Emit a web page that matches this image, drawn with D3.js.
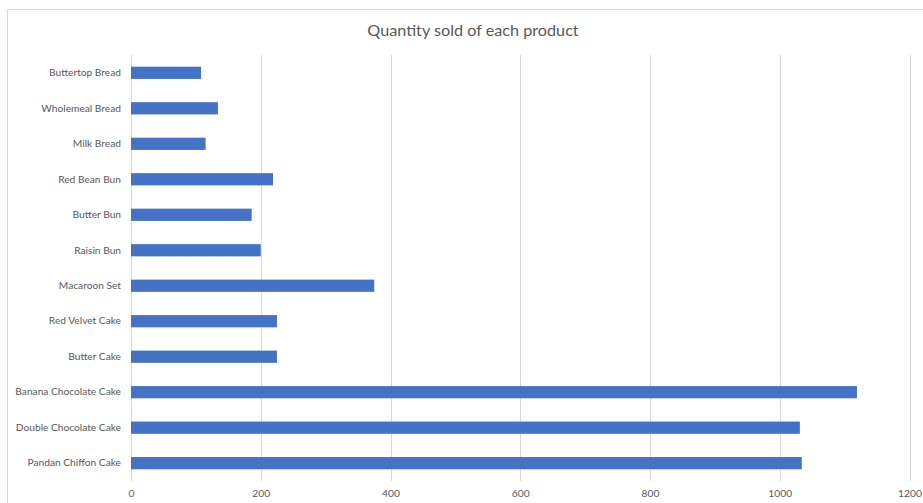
<!DOCTYPE html>
<html><head><meta charset="utf-8">
<script src="https://cdn.jsdelivr.net/npm/d3@7"></script>
<style>
html,body{margin:0;padding:0;background:#fff;}
svg{display:block;}
</style></head>
<body>
<svg id="chart" width="923" height="503"></svg>
<script>
const title = "Quantity sold of each product";
const categories = ["Pandan Chiffon Cake","Double Chocolate Cake","Banana Chocolate Cake","Butter Cake","Red Velvet Cake","Macaroon Set","Raisin Bun","Butter Bun","Red Bean Bun","Milk Bread","Wholemeal Bread","Buttertop Bread"];
const quantities = [1034,1031,1119,225,225,375,200,186,219,115,134,108];
const xTicks = [0,200,400,600,800,1000,1200];

const svg = d3.select("#chart");
const W = 923, H = 503;
const m = {left:131, right:14, top:55, bottom:22};
const font = "Lato, 'Open Sans', sans-serif";

// chart border
svg.append("rect").attr("x",7.5).attr("y",9.5).attr("width",W).attr("height",H)
  .attr("fill","#fff").attr("stroke","#d9d9d9").attr("stroke-width",1);

const x = d3.scaleLinear().domain([0,1200]).range([m.left, 909.5]);
const y = d3.scaleBand().domain(categories.slice().reverse()).range([m.top, H-m.bottom]).paddingInner(0.655).paddingOuter(0.33);

// gridlines
svg.append("g").selectAll("line").data(xTicks).join("line")
  .attr("x1",d=>Math.round(x(d))+0.5).attr("x2",d=>Math.round(x(d))+0.5)
  .attr("y1",m.top).attr("y2",H-m.bottom)
  .attr("stroke","#d9d9d9").attr("stroke-width",1);

// x axis labels
const xAxis = d3.axisBottom(x).tickValues(xTicks).tickSize(0).tickPadding(0).tickFormat(d3.format("d"));
const gx = svg.append("g").attr("transform",`translate(0,${H-m.bottom+9})`).call(xAxis);
gx.select(".domain").remove();
gx.selectAll("text").attr("fill","#595959").style("font-family",font).style("font-size","10.3px");

// y axis labels
const yAxis = d3.axisLeft(y).tickSize(0).tickPadding(10);
const gy = svg.append("g").attr("transform",`translate(${m.left},0)`).call(yAxis);
gy.select(".domain").remove();
gy.selectAll("text").attr("fill","#595959").style("font-family",font).style("font-size","10.2px");

// bars
svg.append("g").selectAll("rect").data(categories).join("rect")
  .attr("x",x(0)).attr("y",d=>y(d))
  .attr("width",(d,i)=>x(quantities[i])-x(0))
  .attr("height",y.bandwidth())
  .attr("fill","#4472c4");

// title
svg.append("text").attr("x",473).attr("y",36).attr("text-anchor","middle")
  .attr("fill","#595959").style("font-family",font).style("font-size","16.2px")
  .text(title);
</script>
</body></html>
